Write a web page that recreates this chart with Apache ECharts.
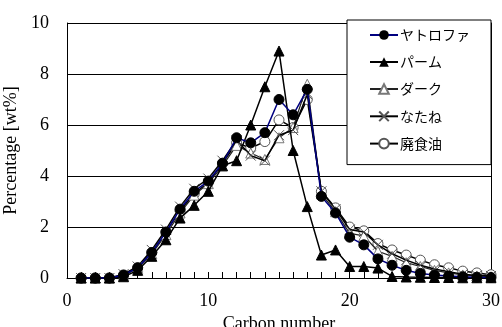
<!DOCTYPE html>
<html>
<head>
<meta charset="utf-8">
<script src="https://cdn.jsdelivr.net/npm/echarts@6/dist/echarts.min.js"></script>
<style>
  html, body { margin: 0; padding: 0; background: #fff; }
  #main { width: 502px; height: 327px; }
</style>
</head>
<body>
<div id="main"></div>
<script>
const carbon = [1,2,3,4,5,6,7,8,9,10,11,12,13,14,15,16,17,18,19,20,21,22,23,24,25,26,27,28,29,30]
const jatropha = [0,0,0,0.12,0.4,1.0,1.8,2.7,3.4,3.8,4.5,5.5,5.3,5.7,7.0,6.4,7.4,3.2,2.55,1.6,1.3,0.75,0.5,0.3,0.18,0.12,0.08,0.05,0.03,0.02]
const palm = [0,0,0,0.05,0.3,0.85,1.5,2.35,2.85,3.4,4.4,4.6,6.0,7.5,8.9,5.0,2.8,0.9,1.1,0.45,0.45,0.39,0.06,0.04,0.03,0.02,0.02,0.01,0.01,0.01]
const dark = [0,0,0,0.1,0.38,0.95,1.7,2.55,3.25,3.7,4.4,5.2,4.9,4.65,5.5,5.9,7.6,3.3,2.6,1.75,1.65,1.05,0.85,0.6,0.45,0.3,0.2,0.12,0.08,0.05]
const rapeseed = [0,0,0,0.15,0.45,1.1,1.9,2.8,3.5,3.9,4.6,5.4,4.8,4.6,5.6,5.8,7.2,3.4,2.7,1.9,1.8,1.3,0.95,0.7,0.5,0.35,0.25,0.15,0.1,0.08]
const waste = [0,0,0,0.1,0.4,1.0,1.8,2.65,3.3,3.75,4.5,5.3,5.1,5.35,6.2,5.9,7.0,3.4,2.75,2.0,1.85,1.35,1.1,0.9,0.7,0.52,0.4,0.27,0.2,0.13]
const names = ['ヤトロファ', 'パーム', 'ダーク', 'なたね', '廃食油']

const pairs = (ys) => carbon.map((c, i) => [c, ys[i]])
const serif = '"Liberation Serif", "Times New Roman", serif'
const crossPath = 'path://M0,0L10,10M10,0L0,10'

const chart = echarts.init(document.getElementById('main'), null, { renderer: 'canvas' })
const option = {
  backgroundColor: '#fff',
  animation: false,
  grid: {
    left: 67, right: 11, top: 23, bottom: 49,
    outerBoundsMode: 'none'
  },
  legend: {
    data: names,
    orient: 'vertical',
    left: 347, top: 20,
    padding: [8, 21, 14, 22],
    itemGap: 13,
    itemWidth: 28,
    itemHeight: 12,
    backgroundColor: '#fff',
    borderColor: '#000',
    borderWidth: 1,
    textStyle: { fontFamily: '"Noto Sans CJK JP"', fontSize: 14, color: '#000', padding: [0, 0, 0, -3] }
  },
  xAxis: {
    type: 'value',
    min: 0, max: 30, interval: 1,
    name: 'Carbon number',
    nameLocation: 'middle',
    nameGap: 26,
    nameTextStyle: { fontFamily: serif, fontSize: 18, color: '#000' },
    axisLine: { lineStyle: { color: '#000', width: 1 } },
    axisTick: { show: true, inside: true, length: 6, lineStyle: { color: '#000', width: 1 } },
    splitLine: { show: false },
    axisLabel: {
      fontFamily: serif, fontSize: 18, color: '#000', margin: 14,
      formatter: (v) => (v % 10 === 0 ? String(v) : '')
    }
  },
  yAxis: [
    {
      type: 'value',
      min: 0, max: 10, interval: 2,
      name: 'Percentage [wt%]',
      nameLocation: 'middle',
      nameGap: 36,
      nameTextStyle: { fontFamily: serif, fontSize: 18, color: '#000' },
      axisLine: { show: true, lineStyle: { color: '#000', width: 1 } },
      axisTick: { show: false },
      splitLine: { show: true, lineStyle: { color: '#000', width: 1 } },
      axisLabel: { fontFamily: serif, fontSize: 18, color: '#000', margin: 18 }
    },
    {
      // right frame edge
      type: 'value',
      position: 'right',
      min: 0, max: 10, interval: 2,
      axisLine: { show: true, lineStyle: { color: '#000', width: 1 } },
      axisTick: { show: false },
      axisLabel: { show: false },
      splitLine: { show: false }
    }
  ],
  series: [
    {
      name: names[0], type: 'line', data: pairs(jatropha), z: 6,
      symbol: 'circle', symbolSize: 10,
      lineStyle: { color: '#000080', width: 1.5 },
      itemStyle: { color: '#000', borderColor: '#000' }
    },
    {
      name: names[1], type: 'line', data: pairs(palm), z: 5,
      symbol: 'triangle', symbolSize: 10,
      lineStyle: { color: '#000', width: 1.5 },
      itemStyle: { color: '#000', borderColor: '#000' }
    },
    {
      name: names[2], type: 'line', data: pairs(dark), z: 3,
      symbol: 'triangle', symbolSize: 10,
      lineStyle: { color: '#222', width: 1.2 },
      itemStyle: { color: '#fff', borderColor: '#777', borderWidth: 1 }
    },
    {
      name: names[3], type: 'line', data: pairs(rapeseed), z: 4,
      symbol: crossPath, symbolSize: 10,
      lineStyle: { color: '#000', width: 1.5 },
      itemStyle: { color: 'none', borderColor: '#555', borderWidth: 1 }
    },
    {
      name: names[4], type: 'line', data: pairs(waste), z: 2,
      symbol: 'circle', symbolSize: 10,
      lineStyle: { color: '#000', width: 1.5 },
      itemStyle: { color: '#fff', borderColor: '#555', borderWidth: 1 }
    }
  ]
}
chart.setOption(option)
</script>
</body>
</html>
